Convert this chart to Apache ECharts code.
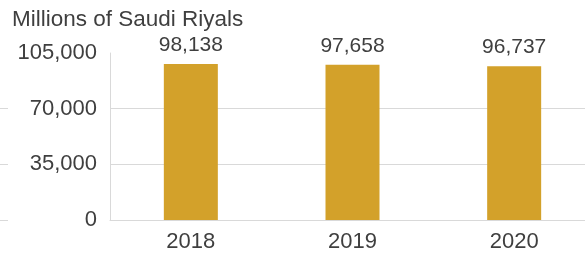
<!DOCTYPE html>
<html>
<head>
<meta charset="utf-8">
<script src="https://cdn.jsdelivr.net/npm/echarts@6/dist/echarts.min.js"></script>
<style>
  html, body { margin: 0; padding: 0; background: #fff; }
  #chart1 { width: 585px; height: 254px; }
</style>
</head>
<body>
<div id="chart1"></div>
<script>
var years = ['2018', '2019', '2020'];
var values = [98138, 97658, 96737];
var yMax = 105000;
var yStep = 35000;

var chartDom = document.getElementById('chart1');
var myChart = echarts.init(chartDom);
var option;

var textColor = '#3f3f3f';
var gridColor = '#d9d9d9';
var fmt = function (v) { return v.toLocaleString('en-US'); };

option = {
  animation: false,
  textStyle: { fontFamily: 'Arial, "Liberation Sans", sans-serif' },
  title: {
    text: 'Millions of Saudi Riyals',
    left: 12,
    top: 8,
    padding: 0,
    textStyle: { fontSize: 22.5, fontWeight: 'normal', color: textColor }
  },
  grid: [
    // little stubs of gridlines at the far left
    { left: 0, width: 8, top: 53, bottom: 34, outerBoundsMode: 'none' },
    // plot runs a bit past the right edge, like the original crop
    { left: 110, width: 485, top: 53, bottom: 34, outerBoundsMode: 'none' }
  ],
  xAxis: [
    { gridIndex: 0, type: 'category', data: [''], show: false },
    {
      gridIndex: 1,
      type: 'category',
      data: years,
      axisLine: { show: true, lineStyle: { color: gridColor } },
      axisTick: { show: false },
      axisLabel: { color: textColor, fontSize: 22, margin: 11 }
    }
  ],
  yAxis: [
    {
      gridIndex: 0, type: 'value', min: 0, max: yMax, interval: yStep,
      axisLine: { show: false }, axisTick: { show: false }, axisLabel: { show: false },
      splitLine: { show: true, showMaxLine: false, lineStyle: { color: gridColor } }
    },
    {
      gridIndex: 1, type: 'value', min: 0, max: yMax, interval: yStep,
      axisLine: { show: true, lineStyle: { color: gridColor } },
      axisTick: { show: false },
      axisLabel: {
        color: textColor, fontSize: 22, margin: 13,
        formatter: fmt
      },
      splitLine: { show: true, showMaxLine: false, lineStyle: { color: gridColor } }
    }
  ],
  series: [
    {
      type: 'bar',
      xAxisIndex: 1,
      yAxisIndex: 1,
      data: values,
      barWidth: 54,
      itemStyle: { color: '#D3A12A' },
      label: {
        show: true,
        position: 'top',
        distance: 8,
        color: textColor,
        fontSize: 21,
        formatter: function (p) { return fmt(p.value); }
      }
    }
  ]
};

option && myChart.setOption(option);
window.onresize = function() {
  myChart.resize();
};
</script>
</body>
</html>
